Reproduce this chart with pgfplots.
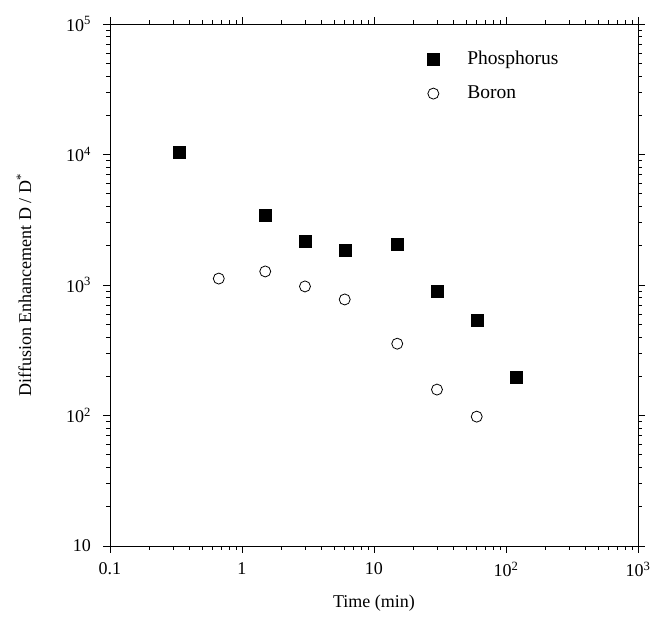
\documentclass[border=0pt]{standalone}
\usepackage{fontspec}
\setmainfont{Liberation Serif}
\usepackage{pgfplots}
\pgfplotsset{compat=1.18}
\usetikzlibrary{calc}
\begin{document}
\fontsize{18}{22}\selectfont
\begin{tikzpicture}
\begin{axis}[
  name=ax,
  xmode=log, ymode=log,
  xmin=0.1, xmax=1000, ymin=10, ymax=1e5,
  width=528pt, height=522pt, scale only axis,
  tick align=outside,
  major tick length=7pt, minor tick length=4pt,
  every tick/.style={black, line width=0.6pt},
  axis line style={line width=0.8pt},
  xtick={0.1,1,10,100,1000},
  xticklabels={0.1,1,10,10\textsuperscript{2},10\textsuperscript{3}},
  ytick={10,100,1000,10000,100000},
  yticklabels={10,10\textsuperscript{2},10\textsuperscript{3},10\textsuperscript{4},10\textsuperscript{5}},
  ticklabel style={font=\fontsize{18}{22}\selectfont},
  yticklabel style={xshift=-6pt},
  xticklabel style={yshift=-3pt},
  xlabel={Time (min)},
  ylabel={Diffusion Enhancement D / D\textsuperscript{*}},
  label style={font=\fontsize{18}{22}\selectfont},
  xlabel style={at={(axis description cs:0.5,-0.109)}, anchor=center},
  ylabel style={at={(axis description cs:-0.163,0.5)}, anchor=center},
  legend style={draw=none, fill=none, at={(0.595,0.957)}, anchor=north west,
    row sep=15pt, column sep=26pt, font=\fontsize{19.5}{23}\selectfont},
  legend cell align=left,
]
\addplot[only marks, mark=square*, mark size=6pt, black] coordinates {
  (0.333,10500) (1.5,3450) (3,2150) (6,1850) (15,2050) (30,890) (60,535) (120,195)
};
\addlegendentry{Phosphorus}
\addplot[only marks, mark=*, mark size=5.5pt, mark options={fill=white, draw=black, line width=0.8pt}] coordinates {
  (0.667,1120) (1.5,1270) (3,975) (6,775) (15,355) (30,158) (60,98)
};
\addlegendentry{Boron}
\end{axis}
\pgfresetboundingbox
\path ($(ax.south west)+(-110pt,-73pt)$) rectangle ($(ax.north east)+(13pt,24pt)$);
\end{tikzpicture}
\end{document}
